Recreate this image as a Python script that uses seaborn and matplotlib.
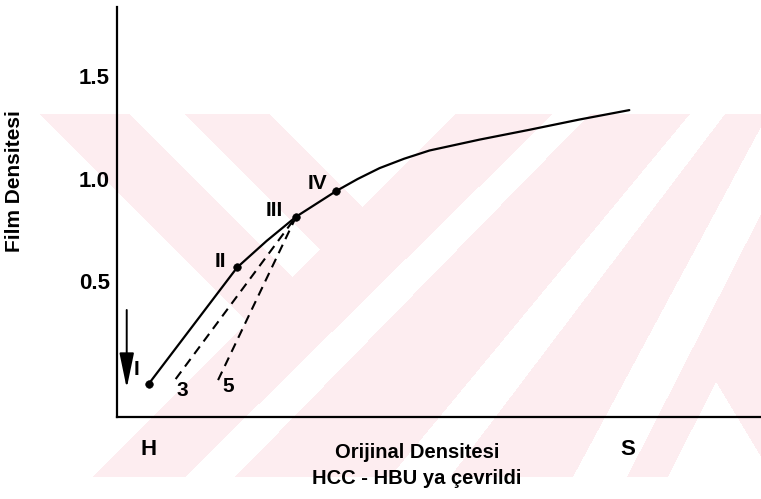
import numpy as np
import pandas as pd
import matplotlib
matplotlib.use("Agg")
import matplotlib.pyplot as plt
import seaborn as sns

# ---- data ----
curve_x = [0.00, 1.29, 1.72, 2.15, 2.74, 3.05, 3.37, 3.73, 4.10, 4.83, 5.56, 6.29, 7.02]
curve_y = [0.000, 0.567, 0.696, 0.814, 0.940, 0.998, 1.051, 1.097, 1.137, 1.190, 1.238, 1.288, 1.334]

point_x = [0.00, 1.29, 2.15, 2.74]
point_y = [0.000, 0.567, 0.814, 0.940]
point_labels = ["I", "II", "III", "IV"]

dash3_x = [0.39, 2.15]
dash3_y = [0.022, 0.814]
dash5_x = [1.01, 2.15]
dash5_y = [0.017, 0.814]
dash_labels = ["3", "5"]

ytick_vals = [0.0, 0.5, 1.0, 1.5]
ytick_labels = ["", "0.5", "1.0", "1.5"]
xtick_vals = [0, 1, 2, 3, 4, 5, 6, 7]
xtick_labels = ["H", "", "", "", "", "", "", "S"]

xlabel = "Orijinal Densitesi\nHCC - HBU ya çevrildi"
ylabel = "Film Densitesi"

# ---- style ----
sns.set_theme(style="white")
FONT = ["Liberation Sans Narrow", "Liberation Sans", "DejaVu Sans"]
plt.rcParams["font.family"] = FONT
plt.rcParams["font.weight"] = "bold"
for k in ["text.color", "axes.labelcolor", "xtick.color", "ytick.color"]:
    plt.rcParams[k] = "black"

W, H = 761, 499
fig = plt.figure(figsize=(W / 100, H / 100), dpi=100)
fig.patch.set_facecolor("white")

# ---- light pink background watermark (scan artefact) ----
bg = fig.add_axes([0, 0, 1, 1], zorder=0)
yy, xx = np.mgrid[0:H, 0:W] + 0.5
s = xx + yy
d = xx - yy
Y0, Y1 = 114, 477
inside = (xx >= 40) & (yy >= Y0) & (yy <= Y1)
left = s < 570
pink_left = left & (((d >= -74) & (d < 16)) | ((d >= 71) & (d < 156)))
t = (yy - Y0) / (Y1 - Y0)
white_right = np.zeros_like(s, dtype=bool)
# white stripes: (top-left, top-right, bottom-left, bottom-right) x positions
for tl, tr, bl, br in [(553, 590, 185, 235), (690, 725, 390, 450), (768, 812, 573, 627)]:
    xl = tl + (bl - tl) * t
    xr = tr + (br - tr) * t
    white_right |= (xx >= xl) & (xx <= xr)
tri = (yy >= 382) & (xx >= 716 - (yy - 382) * 48 / 95) & (xx <= 716 + (yy - 382) * 45 / 75)
pink_right = (~left) & (~white_right) & (~tri)
mask = inside & (pink_left | pink_right)
img = np.ones((H, W, 3))
img[mask] = np.array([253, 237, 240]) / 255.0
bg.imshow(img, extent=(0, W, H, 0), interpolation="nearest", aspect="auto")
bg.set_xlim(0, W)
bg.set_ylim(H, 0)
bg.axis("off")

# ---- main axes ----
ax = fig.add_axes([117 / W, 82 / H, 643 / W, 410 / H], zorder=1)
ax.set_facecolor("none")

curve = pd.DataFrame({"x": curve_x, "y": curve_y})
sns.lineplot(data=curve, x="x", y="y", ax=ax, color="black", lw=1.6, sort=False)

for dx, dy in [(dash3_x, dash3_y), (dash5_x, dash5_y)]:
    sns.lineplot(x=dx, y=dy, ax=ax, color="black", lw=1.5, sort=False,
                 linestyle=(0, (4.5, 3.0)))

pts = pd.DataFrame({"x": point_x, "y": point_y})
sns.scatterplot(data=pts, x="x", y="y", ax=ax, color="black", s=30,
                edgecolor="black", zorder=5)

# point labels (offsets in points)
offsets = [(-9, 10), (-12, 4), (-15.5, 4.5), (-13.5, 5.5)]
for lab, px, py, off in zip(point_labels, point_x, point_y, offsets):
    ax.annotate(lab, xy=(px, py), xytext=off, textcoords="offset points",
                ha="center", va="center", fontsize=15, fontweight="bold")

for lab, dxs, dys, off in zip(dash_labels, [dash3_x, dash5_x], [dash3_y, dash5_y],
                              [(5, -8), (7.5, -4.5)]):
    ax.annotate(lab, xy=(dxs[0], dys[0]), xytext=off, textcoords="offset points",
                ha="center", va="center", fontsize=15, fontweight="bold")

# arrow pointing down at point I
ax.annotate("", xy=(-0.325, -0.022), xytext=(-0.325, 0.359),
            arrowprops=dict(arrowstyle="-|>,head_length=1.35,head_width=0.28",
                            mutation_scale=16, lw=1.4, color="black",
                            shrinkA=0, shrinkB=0))

ax.set_xlim(-0.467, 8.93)
ax.set_ylim(-0.163, 1.837)
ax.set_xticks(xtick_vals)
ax.set_xticklabels(xtick_labels)
ax.set_yticks(ytick_vals)
ax.set_yticklabels(ytick_labels)

for side in ["top", "right"]:
    ax.spines[side].set_visible(False)
for side in ["left", "bottom"]:
    ax.spines[side].set_color("black")
    ax.spines[side].set_linewidth(1.6)

ax.tick_params(axis="y", direction="in", length=6, width=1.3, colors="black",
               labelsize=16, pad=5)
ax.tick_params(axis="x", direction="in", length=5, width=1.3, colors="black",
               labelsize=16, pad=16)
for tk in ax.get_xticklabels() + ax.get_yticklabels():
    tk.set_fontweight("bold")

ax.set_xlabel(xlabel, fontsize=14.5, fontweight="bold", linespacing=1.5,
              ha="center", va="top")
ax.xaxis.set_label_coords((417 - 117) / 643, (417 - 443) / 410)
ax.set_ylabel(ylabel, fontsize=15, fontweight="bold", va="center")
ax.yaxis.set_label_coords((15 - 117) / 643, (417 - 181) / 410)

fig.savefig("out.png", dpi=100)
